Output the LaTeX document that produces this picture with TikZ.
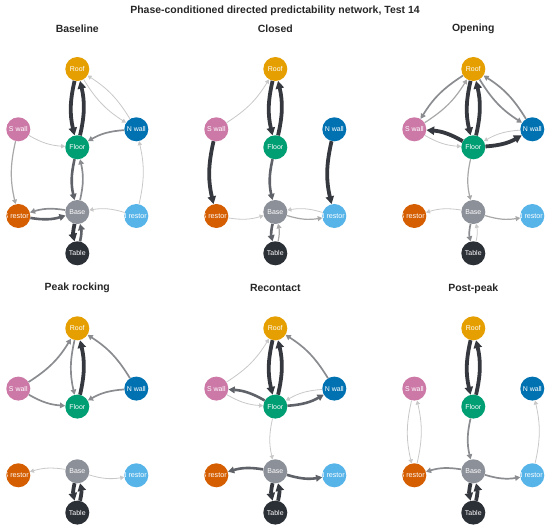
\documentclass[tikz,border=0pt]{standalone}
\usepackage{fontspec}
\setmainfont{Liberation Sans}
\usetikzlibrary{arrows.meta}
\definecolor{cRoof}{HTML}{E69F00}
\definecolor{cSW}{HTML}{CC79A7}
\definecolor{cNW}{HTML}{0072B2}
\definecolor{cFloor}{HTML}{009E73}
\definecolor{cSR}{HTML}{D55E00}
\definecolor{cBase}{HTML}{8C9099}
\definecolor{cNR}{HTML}{56B4E9}
\definecolor{cTable}{HTML}{2B2F36}
\definecolor{cTitle}{HTML}{262626}
\definecolor{w1}{HTML}{C8C8C8}
\definecolor{w2}{HTML}{A8A8A8}
\definecolor{w3}{HTML}{8A8C90}
\definecolor{w4}{HTML}{5F6268}
\definecolor{w5}{HTML}{35383E}
\tikzset{
  nd/.style={circle, minimum size=24bp, inner sep=0pt, text=white, font=\fontsize{7}{8}\selectfont},
  lbl/.style={inner sep=0pt, text=white, font=\fontsize{7.2}{8}\selectfont},
  ttl/.style={text=cTitle, font=\bfseries\fontsize{10.5}{12}\selectfont},
  ed/.style={-{Triangle[length=3bp 1.25, width=3.4bp 1.25]}, bend right=13},
  e1/.style={ed, draw=w1, line width=0.8bp},
  e2/.style={ed, draw=w2, line width=1.2bp},
  e3/.style={ed, draw=w3, line width=1.7bp},
  e4/.style={ed, draw=w4, line width=2.6bp},
  e5/.style={ed, draw=w5, line width=3.8bp},
}
\newcommand\mkpanel[4]{%
  \begin{scope}[shift={(#2,#3)}]
    \node[ttl] (#1-title) at (0,-40) {#4};
    \node[nd, fill=cRoof] (#1-roof) at (0,0) {Roof};
    \node[nd, fill=cSW] (#1-sw) at (-59,60.3) {S wall};
    \node[nd, fill=cNW] (#1-nw) at (59,60.3) {N wall};
    \node[nd, fill=cFloor] (#1-floor) at (0,78.3) {Floor};
    \node[nd, fill=cSR, path picture={\node[lbl] at ([xshift=-2.2bp]path picture bounding box.center) {S restor};}] (#1-sr) at (-59,147) {};
    \node[nd, fill=cBase] (#1-base) at (0,143) {Base};
    \node[nd, fill=cNR, path picture={\node[lbl] at ([xshift=-2.2bp]path picture bounding box.center) {N restor};}] (#1-nr) at (59,147) {};
    \node[nd, fill=cTable] (#1-table) at (0,184.3) {Table};
  \end{scope}}
\begin{document}
\begin{tikzpicture}[x=1bp, y=-1bp]
\useasboundingbox (0,0) rectangle (550,531);
\node[ttl] (maintitle) at (275,11) {Phase-conditioned directed predictability network, Test 14};
\mkpanel{A}{77.3}{69}{Baseline}
\mkpanel{B}{275.3}{69}{Closed}
\mkpanel{C}{473.3}{69}{Opening}
\mkpanel{D}{77.3}{328.3}{Peak rocking}
\mkpanel{E}{275.3}{328.3}{Recontact}
\mkpanel{F}{473.3}{328.3}{Post-peak}
% Baseline
\draw[e5] (A-roof) to (A-floor);
\draw[e5] (A-floor) to (A-roof);
\draw[e1] (A-roof) to (A-nw);
\draw[e1] (A-nw) to (A-roof);
\draw[e1] (A-sw) to (A-floor);
\draw[e3] (A-nw) to (A-floor);
\draw[e2] (A-sw) to (A-sr);
\draw[e1] (A-nr) to (A-nw);
\draw[e4] (A-floor) to (A-base);
\draw[e3] (A-base) to (A-floor);
\draw[e3] (A-base) to (A-sr);
\draw[e4] (A-sr) to (A-base);
\draw[e1] (A-nr) to (A-base);
\draw[e5] (A-base) to (A-table);
\draw[e4] (A-table) to (A-base);
% Closed
\draw[e5] (B-roof) to (B-floor);
\draw[e5] (B-floor) to (B-roof);
\draw[e1] (B-sw) to (B-roof);
\draw[e5] (B-sw) to (B-sr);
\draw[e5] (B-nw) to (B-nr);
\draw[e4] (B-floor) to (B-base);
\draw[e1] (B-sr) to (B-base);
\draw[e2] (B-base) to (B-nr);
\draw[e1] (B-nr) to (B-base);
\draw[e4] (B-base) to (B-table);
\draw[e2] (B-table) to (B-base);
% Opening
\draw[e5] (C-roof) to (C-floor);
\draw[e5] (C-floor) to (C-roof);
\draw[e3] (C-roof) to (C-sw);
\draw[e2] (C-sw) to (C-roof);
\draw[e3] (C-roof) to (C-nw);
\draw[e3] (C-nw) to (C-roof);
\draw[e5] (C-floor) to (C-sw);
\draw[e1] (C-sw) to (C-floor);
\draw[e5] (C-floor) to (C-nw);
\draw[e1] (C-nw) to (C-floor);
\draw[e2] (C-floor) to (C-base);
\draw[e1] (C-base) to (C-sr);
\draw[e2] (C-base) to (C-nr);
\draw[e3] (C-base) to (C-table);
\draw[e1] (C-table) to (C-base);
% Peak rocking
\draw[e3] (D-roof) to (D-floor);
\draw[e5] (D-floor) to (D-roof);
\draw[e3] (D-sw) to (D-roof);
\draw[e3] (D-sw) to (D-floor);
\draw[e3] (D-nw) to (D-roof);
\draw[e3] (D-nw) to (D-floor);
\draw[e1] (D-base) to (D-sr);
\draw[e1] (D-base) to (D-nr);
\draw[e5] (D-base) to (D-table);
\draw[e5] (D-table) to (D-base);
% Recontact
\draw[e5] (E-roof) to (E-floor);
\draw[e5] (E-floor) to (E-roof);
\draw[e1] (E-sw) to (E-roof);
\draw[e3] (E-nw) to (E-roof);
\draw[e4] (E-floor) to (E-sw);
\draw[e1] (E-sw) to (E-floor);
\draw[e4] (E-floor) to (E-nw);
\draw[e1] (E-nw) to (E-floor);
\draw[e1] (E-floor) to (E-base);
\draw[e4] (E-base) to (E-sr);
\draw[e4] (E-base) to (E-nr);
\draw[e5] (E-base) to (E-table);
\draw[e5] (E-table) to (E-base);
% Post-peak
\draw[e5] (F-roof) to (F-floor);
\draw[e5] (F-floor) to (F-roof);
\draw[e1] (F-sw) to (F-sr);
\draw[e1] (F-sr) to (F-sw);
\draw[e1] (F-nr) to (F-nw);
\draw[e3] (F-floor) to (F-base);
\draw[e3] (F-base) to (F-sr);
\draw[e3] (F-base) to (F-nr);
\draw[e5] (F-base) to (F-table);
\draw[e5] (F-table) to (F-base);
\end{tikzpicture}
\end{document}
